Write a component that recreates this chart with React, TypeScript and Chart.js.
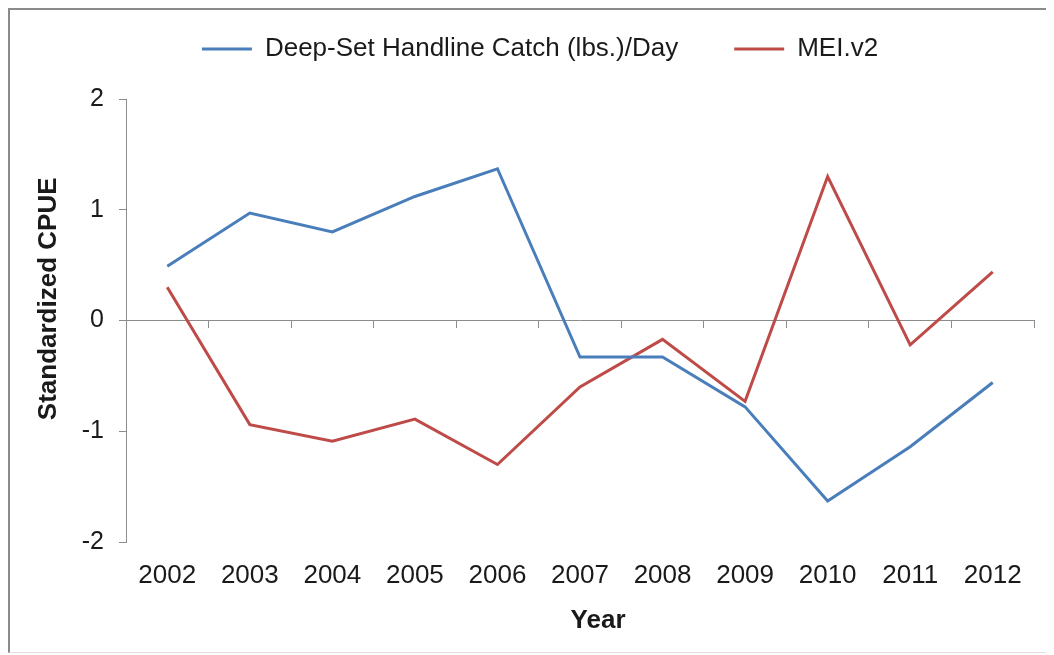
import React, { useEffect, useRef } from "react";
import { Chart, registerables } from "chart.js";

Chart.register(...registerables);

const years = ["2002", "2003", "2004", "2005", "2006", "2007", "2008", "2009", "2010", "2011", "2012"];
const handlineCatch = [0.49, 0.97, 0.8, 1.12, 1.37, -0.33, -0.33, -0.78, -1.63, -1.14, -0.56];
const meiV2 = [0.3, -0.94, -1.09, -0.89, -1.3, -0.6, -0.17, -0.73, 1.3, -0.22, 0.44];
const seriesNames = ["Deep-Set Handline Catch (lbs.)/Day", "MEI.v2"];
const yTitle = "Standardized CPUE";
const xTitle = "Year";

const FONT = "'Liberation Sans', Arial, sans-serif";

export default function App() {
  const ref = useRef<HTMLCanvasElement>(null);
  useEffect(() => {
    if (!ref.current) return;
    const legendPlace = {
      id: "legendPlace",
      beforeInit(chart: any) {
        const lg = chart.legend;
        const fit = lg.fit;
        lg.fit = function () {
          fit.bind(lg)();
          this.height = 74;
        };
        const draw = lg.draw;
        lg.draw = function () {
          const saved = [this.top, this.left, this.right];
          this.top = saved[0] - 45;
          this.left = saved[1] + 18;
          this.right = saved[2] + 18;
          draw.bind(lg)();
          this.top = saved[0];
          this.left = saved[1];
          this.right = saved[2];
        };
      },
    };
    const chart = new Chart(ref.current, {
      type: "line",
      data: {
        labels: years,
        datasets: [
          {
            label: seriesNames[0],
            data: handlineCatch,
            borderColor: "#4A7EBB",
            backgroundColor: "#4A7EBB",
            borderWidth: 3,
            pointRadius: 0,
            tension: 0,
            xAxisID: "x",
          },
          {
            label: seriesNames[1],
            data: meiV2,
            borderColor: "#BE4B48",
            backgroundColor: "#BE4B48",
            borderWidth: 3,
            pointRadius: 0,
            tension: 0,
            xAxisID: "x",
          },
        ],
      },
      options: {
        responsive: false,
        animation: false,
        layout: { padding: { top: 15, right: 20, left: 0, bottom: 0 } },
        plugins: {
          tooltip: { enabled: false },
          legend: {
            position: "top",
            labels: {
              usePointStyle: true,
              pointStyle: "line",
              pointStyleWidth: 50,
              color: "#1a1a1a",
              font: { family: FONT, size: 26 },
              padding: 56,
            },
          },
        },
        scales: {
          x: {
            type: "category",
            position: { y: 0 } as any,
            offset: true,
            ticks: { display: false },
            grid: {
              display: true,
              offset: true,
              drawOnChartArea: false,
              drawTicks: true,
              tickLength: 7,
              tickColor: "#8c8c8c",
            },
            border: { display: true, color: "#8c8c8c", width: 1 },
          },
          x2: {
            type: "category",
            position: "bottom",
            offset: true,
            grid: { display: false, drawTicks: false },
            border: { display: false },
            ticks: {
              color: "#1a1a1a",
              font: { family: FONT, size: 26 },
              padding: 18,
              maxRotation: 0,
              autoSkip: false,
            },
            title: {
              display: true,
              text: "     " + xTitle,
              color: "#1a1a1a",
              font: { family: FONT, size: 26, weight: "bold" },
              padding: { top: 0, bottom: 16 },
            },
            afterFit: (s: any) => {
              s.height = 110;
            },
          },
          y: {
            type: "linear",
            position: "left",
            min: -2,
            max: 2,
            ticks: {
              stepSize: 1,
              color: "#1a1a1a",
              font: { family: FONT, size: 25 },
              padding: 15,
            },
            grid: {
              display: true,
              drawOnChartArea: false,
              drawTicks: true,
              tickLength: 7,
              tickColor: "#8c8c8c",
            },
            border: { display: true, color: "#8c8c8c", width: 1 },
            title: {
              display: true,
              text: "      " + yTitle,
              color: "#1a1a1a",
              font: { family: FONT, size: 26, weight: "bold" },
              padding: { top: 23, bottom: 0 },
            },
            afterFit: (s: any) => {
              s.width = 116;
            },
          },
        },
      } as any,
      plugins: [legendPlace],
    });
    return () => chart.destroy();
  }, []);
  return (
    <div
      style={{
        width: 1046,
        height: 642,
        borderTop: "2px solid #8a8a8a",
        borderLeft: "2px solid #8a8a8a",
        borderBottom: "1px solid #e0e0e0",
        boxSizing: "content-box",
        background: "#fff",
      }}
    >
      <canvas ref={ref} width={1044} height={642} style={{ display: "block" }} />
    </div>
  );
}
